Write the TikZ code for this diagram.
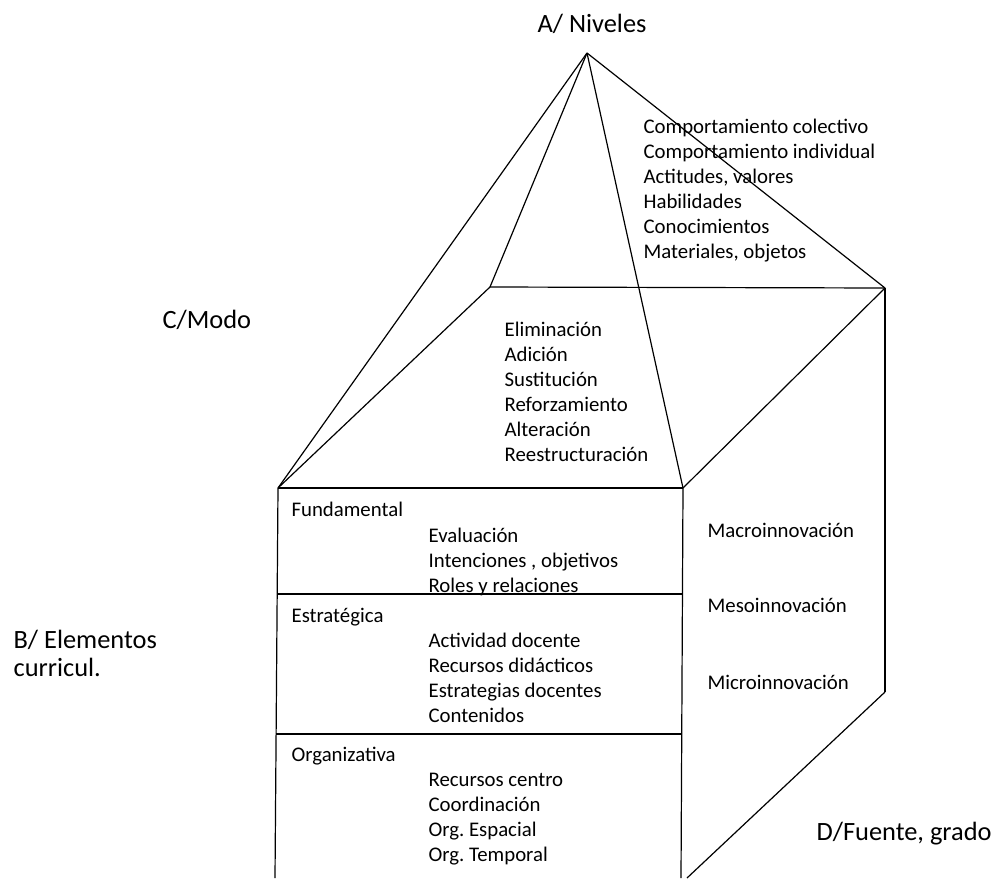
\documentclass[tikz,border=0pt]{standalone}
\usepackage{fontspec}
\setmainfont{Carlito}
\frenchspacing

\begin{document}
\begin{tikzpicture}[x=1pt, y=-1pt, line width=1.2pt,
  item/.style={anchor=base west, inner sep=0pt, align=left,
    font=\fontsize{20.8}{25}\selectfont},
  label/.style={anchor=base west, inner sep=0pt, align=left,
    font=\fontsize{26.4}{28}\selectfont}
]
\useasboundingbox (0,0) rectangle (1001,878);

% corners
\coordinate (apex) at (587,53);
\coordinate (bl)   at (490,287);
\coordinate (br)   at (885,288);
\coordinate (fl)   at (278,488);
\coordinate (fr)   at (683,488);
\coordinate (flb)  at (275,878);
\coordinate (frb)  at (681,878);
\coordinate (brb)  at (885,692);
\coordinate (dg)   at (687,878);

\coordinate (d1l) at (278,594);
\coordinate (d1r) at (683,594);
\coordinate (d2l) at (276,734);
\coordinate (d2r) at (682,734);

% edges
\draw (apex) -- (fl);
\draw (apex) -- (bl);
\draw (apex) -- (fr);
\draw (apex) -- (br);

\draw (bl) -- (br);
\draw (fl) -- (fr);
\draw (fl) -- (bl);
\draw (fr) -- (br);

\draw (fl) -- (flb);
\draw (fr) -- (frb);
\draw (br) -- (brb);
\draw (brb) -- (dg);

\draw (d1l) -- (d1r);
\draw (d2l) -- (d2r);

% labels (a multi-line node sits on its last line)
\node[label] (niv) at (537,32) {A/ Niveles};
\node[label] (modo) at (162,328) {C/Modo};
\node[label] (elem) at (13,676) {B/ Elementos\\curricul.};
\node[label] (fuente) at (816,840) {D/Fuente, grado};

% lists
\node[item] (nivlist) at (643,258) {Comportamiento colectivo\\Comportamiento individual\\Actitudes, valores\\Habilidades\\Conocimientos\\Materiales, objetos};
\node[item] (modolist) at (504,461) {Eliminación\\Adición\\Sustitución\\Reforzamiento\\Alteración\\Reestructuración};

\node[item] (fund) at (291,516) {Fundamental};
\node[item] (fundlist) at (428,592) {Evaluación\\Intenciones , objetivos\\Roles y relaciones};
\node[item] (estr) at (291,622) {Estratégica};
\node[item] (estrlist) at (428,722) {Actividad docente\\Recursos didácticos\\Estrategias docentes\\Contenidos};
\node[item] (org) at (291,761) {Organizativa};
\node[item] (orglist) at (428,861) {Recursos centro\\Coordinación\\Org. Espacial\\Org. Temporal};

\node[item] (macro) at (707,537) {Macroinnovación};
\node[item] (meso) at (707,612) {Mesoinnovación};
\node[item] (micro) at (707,689) {Microinnovación};

\end{tikzpicture}
\end{document}
